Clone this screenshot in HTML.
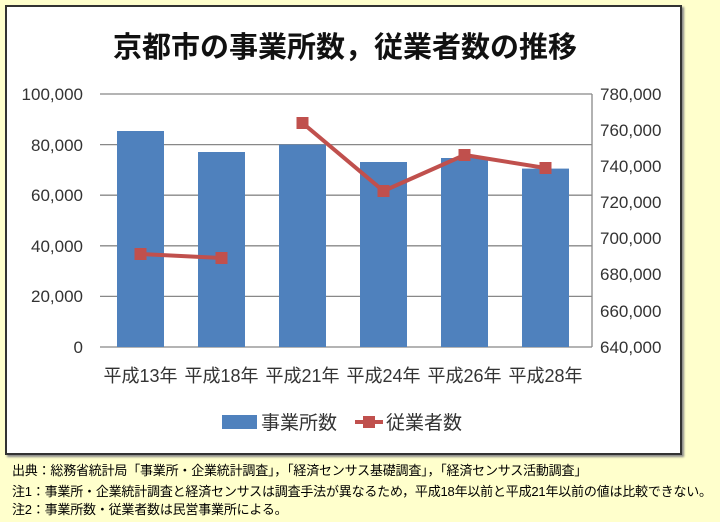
<!DOCTYPE html>
<html><head><meta charset="utf-8"><style>
body{margin:0;width:720px;height:522px;background:#FFFFCC;position:relative;overflow:hidden;font-family:"Liberation Sans","Noto Sans CJK JP",sans-serif}
.box{position:absolute;left:5px;top:5px;width:673px;height:446px;background:#fff;border:2px solid #333;box-shadow:2px 2px 2px #888}
.note{position:absolute;left:12px;font-size:13px;color:#000;white-space:nowrap;letter-spacing:-0.2px}
</style></head><body>
<div class="box"></div>
<svg width="720" height="522" style="position:absolute;left:0;top:0" font-family="Liberation Sans, Noto Sans CJK JP, sans-serif">
<text x="345" y="57" text-anchor="middle" font-size="29" font-weight="bold" fill="#111">京都市の事業所数，従業者数の推移</text>
<g stroke="#888" stroke-width="1.3">
<line x1="100" x2="592" y1="94" y2="94"/><line x1="100" x2="592" y1="144.6" y2="144.6"/>
<line x1="100" x2="592" y1="195.2" y2="195.2"/><line x1="100" x2="592" y1="245.8" y2="245.8"/>
<line x1="100" x2="592" y1="296.4" y2="296.4"/><line x1="100" x2="592" y1="347" y2="347"/>
<line x1="592" x2="592" y1="94" y2="347"/>
</g>
<g font-size="17" fill="#333" text-anchor="end">
<text x="83" y="100">100,000</text><text x="83" y="151">80,000</text><text x="83" y="201">60,000</text>
<text x="83" y="252">40,000</text><text x="83" y="302">20,000</text><text x="83" y="353">0</text>
</g>
<g font-size="17" fill="#333">
<text x="600" y="100">780,000</text><text x="600" y="136">760,000</text><text x="600" y="172">740,000</text>
<text x="600" y="208">720,000</text><text x="600" y="244">700,000</text><text x="600" y="280">680,000</text>
<text x="600" y="317">660,000</text><text x="600" y="353">640,000</text>
</g>
<g fill="#4F81BD">
<rect x="117" y="131" width="47" height="216"/><rect x="198" y="152" width="47" height="195"/>
<rect x="279" y="144.6" width="47" height="202.4"/><rect x="360" y="162" width="47" height="185"/>
<rect x="441" y="158" width="47" height="189"/><rect x="522" y="168.6" width="47" height="178.4"/>
</g>
<g stroke="#C0504D" stroke-width="4" fill="none">
<polyline points="140.5,254 221.5,258"/>
<polyline points="302.5,123 383.5,191 464.5,155 545.5,168"/>
</g>
<g fill="#C0504D">
<rect x="134.5" y="248" width="12" height="12"/><rect x="215.5" y="252" width="12" height="12"/>
<rect x="296.5" y="117" width="12" height="12"/><rect x="377.5" y="185" width="12" height="12"/>
<rect x="458.5" y="149" width="12" height="12"/><rect x="539.5" y="162" width="12" height="12"/>
</g>
<g font-size="18" fill="#333" text-anchor="middle">
<text x="140.5" y="382">平成13年</text><text x="221.5" y="382">平成18年</text><text x="302.5" y="382">平成21年</text>
<text x="383.5" y="382">平成24年</text><text x="464.5" y="382">平成26年</text><text x="545.5" y="382">平成28年</text>
</g>
<rect x="222" y="415" width="35" height="14" fill="#4F81BD"/>
<text x="261" y="429" font-size="19" fill="#333">事業所数</text>
<line x1="355" x2="383" y1="422" y2="422" stroke="#C0504D" stroke-width="4"/>
<rect x="363" y="416" width="12" height="12" fill="#C0504D"/>
<text x="386" y="429" font-size="19" fill="#333">従業者数</text>
</svg>
<div class="note" style="top:460px">出典：総務省統計局「事業所・企業統計調査」，「経済センサス基礎調査」，「経済センサス活動調査」</div>
<div class="note" style="top:481px">注1：事業所・企業統計調査と経済センサスは調査手法が異なるため，平成18年以前と平成21年以前の値は比較できない。</div>
<div class="note" style="top:499px">注2：事業所数・従業者数は民営事業所による。</div>
</body></html>
